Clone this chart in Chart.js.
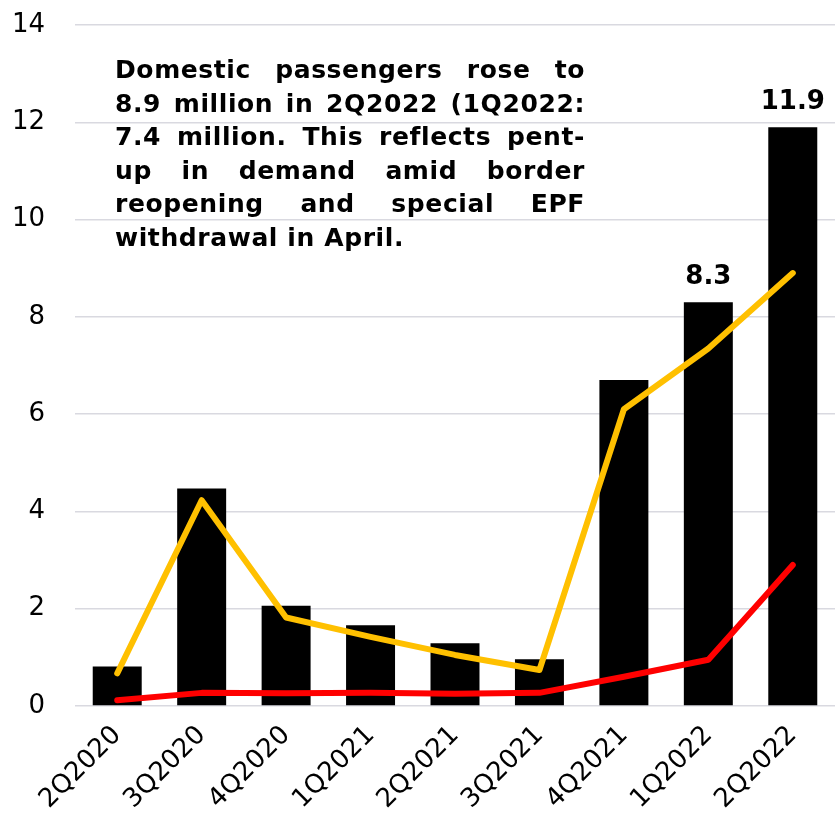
<!DOCTYPE html>
<html>
<head>
<meta charset="utf-8">
<script src="https://cdn.jsdelivr.net/npm/chart.js@4.4.1/dist/chart.umd.min.js"></script>
<style>
  html, body { margin: 0; padding: 0; background: #fff; }
  #wrap { position: relative; width: 835px; height: 830px; }
  #note {
    position: absolute; left: 115px; top: 53px; width: 470px;
    font-family: "DejaVu Sans", sans-serif; font-weight: bold;
    font-size: 25px; letter-spacing: 0.6px; line-height: 33.5px; color: #000;
  }
  #note div { white-space: nowrap; text-align: justify; text-align-last: justify; }
  #note div.last { text-align-last: left; }
</style>
</head>
<body>
<div id="wrap">
  <canvas id="chart" width="835" height="830"></canvas>
  <div id="note">
    <div>Domestic passengers rose to</div>
    <div>8.9 million in 2Q2022 (1Q2022:</div>
    <div>7.4 million. This reflects pent-</div>
    <div>up in demand amid border</div>
    <div>reopening and special EPF</div>
    <div class="last">withdrawal in April.</div>
  </div>
</div>
<script>
  // ==== dados (milhões de passageiros) ====
  const categories = ['2Q2020','3Q2020','4Q2020','1Q2021','2Q2021','3Q2021','4Q2021','1Q2022','2Q2022'];
  const totalValues = [0.81, 4.47, 2.06, 1.66, 1.29, 0.96, 6.7, 8.3, 11.9];
  const domesticValues = [0.67, 4.23, 1.82, 1.42, 1.05, 0.74, 6.1, 7.35, 8.9];
  const internationalValues = [0.12, 0.27, 0.26, 0.27, 0.25, 0.27, 0.6, 0.95, 2.9];
  const barLabels = ['', '', '', '', '', '', '', '8.3', '11.9'];
  const yTicks = [0, 2, 4, 6, 8, 10, 12, 14];

  const barLabelPlugin = {
    id: 'barLabels',
    afterDatasetsDraw(chart) {
      const meta = chart.getDatasetMeta(0);
      const ctx = chart.ctx;
      ctx.save();
      ctx.font = 'bold 26px "DejaVu Sans", sans-serif';
      ctx.fillStyle = '#000';
      ctx.textAlign = 'center';
      ctx.textBaseline = 'bottom';
      meta.data.forEach((el, i) => {
        if (barLabels[i]) ctx.fillText(barLabels[i], el.x, el.y - 12);
      });
      ctx.restore();
    }
  };

  new Chart(document.getElementById('chart').getContext('2d'), {
    type: 'bar',
    data: {
      labels: categories,
      datasets: [
        {
          type: 'bar',
          data: totalValues,
          backgroundColor: '#000000',
          categoryPercentage: 1,
          barPercentage: 0.58,
          order: 3
        },
        {
          type: 'line',
          data: domesticValues,
          borderColor: '#FFC000',
          borderWidth: 6,
          pointRadius: 0,
          tension: 0,
          borderCapStyle: 'round',
          borderJoinStyle: 'round',
          order: 1
        },
        {
          type: 'line',
          data: internationalValues,
          borderColor: '#FF0000',
          borderWidth: 6,
          pointRadius: 0,
          tension: 0,
          borderCapStyle: 'round',
          borderJoinStyle: 'round',
          order: 2
        }
      ]
    },
    options: {
      responsive: false,
      animation: false,
      layout: { padding: { top: 25, right: 0, left: 0, bottom: 0 } },
      plugins: { legend: { display: false }, tooltip: { enabled: false } },
      scales: {
        x: {
          grid: { display: false },
          border: { display: false },
          afterFit: s => { s.height = 124; s.paddingTop = 0; s.paddingRight = 0; },
          ticks: {
            color: '#000',
            font: { family: '"DejaVu Sans", sans-serif', size: 26 },
            minRotation: 45, maxRotation: 45,
            padding: 6
          }
        },
        y: {
          min: 0, max: 14,
          afterFit: s => { s.width = 75; s.paddingTop = 0; s.paddingBottom = 0; },
          afterBuildTicks: s => { s.ticks = yTicks.map(v => ({ value: v })); },
          grid: { color: '#d9d9e0', lineWidth: 1.5, drawTicks: false },
          border: { display: false },
          ticks: {
            color: '#000',
            font: { family: '"DejaVu Sans", sans-serif', size: 26 },
            padding: 30
          }
        }
      }
    },
    plugins: [barLabelPlugin]
  });
</script>
</body>
</html>
